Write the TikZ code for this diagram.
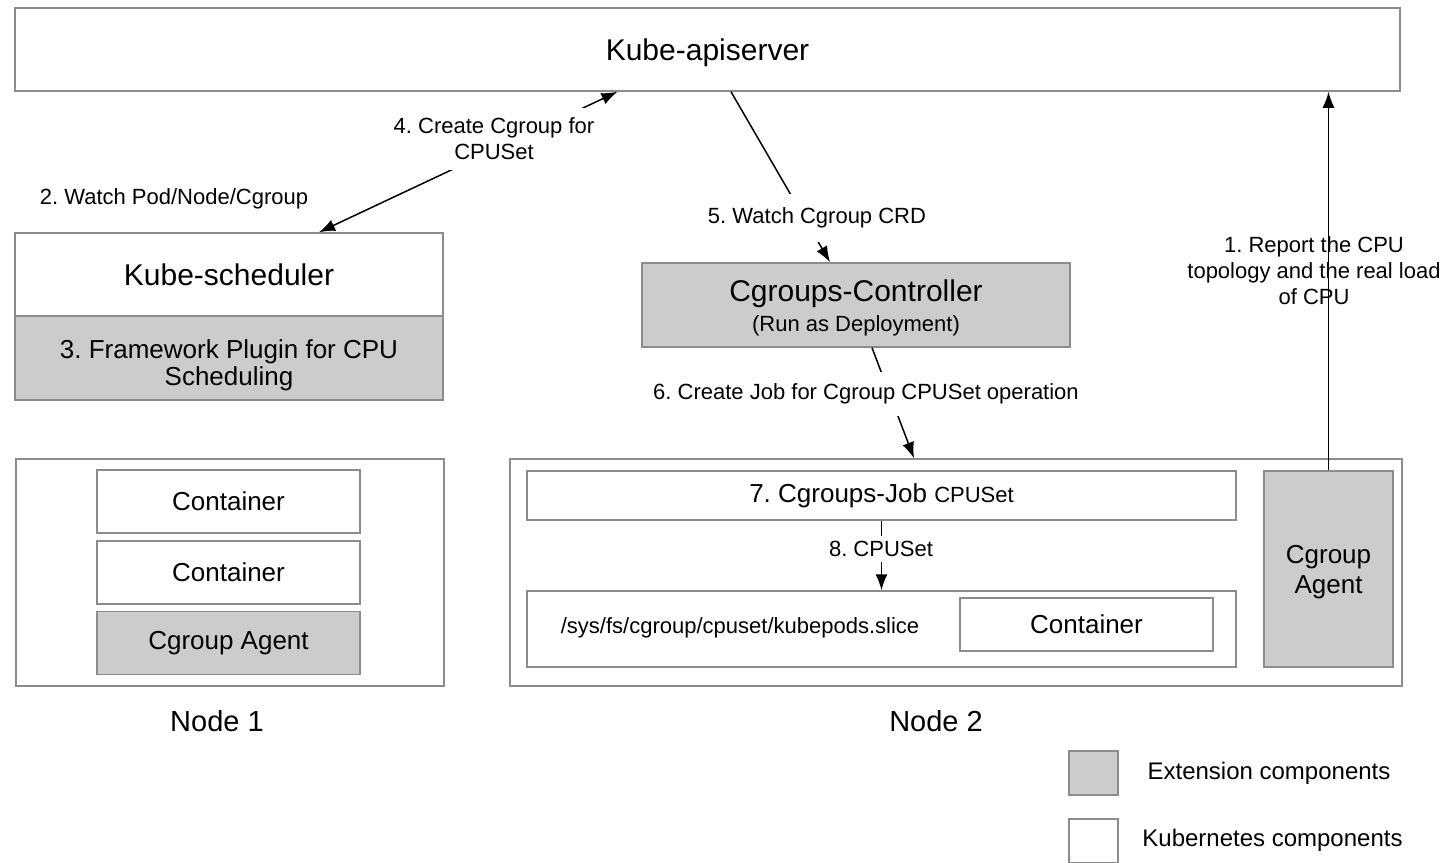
\documentclass[tikz,border=0pt]{standalone}
\usepackage{fontspec}
\setmainfont{Liberation Sans}
\frenchspacing
\usetikzlibrary{arrows.meta}

\begin{document}
\begin{tikzpicture}[
		x={(1pt,0pt)},
		y={(0pt,-1pt)},
		box/.style={draw=black!45,line width=1.5pt,align=center,inner sep=0pt},
		ext/.style={box,fill=black!20},
		big/.style={font=\fontsize{30}{34}\selectfont,text height=21.5pt,text depth=0pt},
		mid/.style={font=\fontsize{26}{27}\selectfont},
		small/.style={font=\fontsize{22}{26}\selectfont,align=center},
		lbl/.style={small,fill=white,inner xsep=2pt},
		conn/.style={line width=1.5pt,-{Latex[length=16pt,width=12pt]}},
		both/.style={line width=1.5pt,{Latex[length=16pt,width=12pt]}-{Latex[length=16pt,width=12pt]}},
	]
		\useasboundingbox (0,0) rectangle (1448,862);

		\node[box,big,minimum width=1385pt,minimum height=83pt] (api) at (707.5,49.5) {Kube-apiserver};
		\node[box,big,minimum width=428pt,minimum height=83pt] (sched) at (229,274.5) {Kube-scheduler};
		\node[ext,minimum width=428pt,minimum height=84pt] (plugin) at (229,358) {};
		\node[mid,align=center] (plugintxt) at (229,365) {3. Framework Plugin for CPU\\Scheduling};
		\node[ext,minimum width=428pt,minimum height=84pt] (ctrl) at (856,305) {};
		\node[big] (ctrltitle) at (856,291) {Cgroups-Controller};
		\node[small] (ctrlnote) at (856,326) {(Run as Deployment)};

		\node[box,minimum width=428pt,minimum height=227pt] (node1) at (230,572.5) {};
		\foreach \n/\y in {1/501.5, 2/572.5}{
			\node[box,mid,minimum width=263pt,minimum height=63pt] (cont\n) at (228.5,\y) {Container};
		}
		\node[ext,mid,minimum width=263pt,minimum height=63pt] (agent1) at (228.5,643) {Cgroup Agent};
		\node[font=\fontsize{29}{34}\selectfont] (node1lbl) at (217,721) {Node 1};

		\node[box,minimum width=892pt,minimum height=227pt] (node2) at (956,572.5) {};
		\node[box,minimum width=709pt,minimum height=49pt] (job) at (881.5,495.5) {\fontsize{26}{30}\selectfont 7. Cgroups-Job \fontsize{22}{26}\selectfont CPUSet};
		\node[box,minimum width=709pt,minimum height=76pt] (slice) at (881.5,629) {};
		\node[small] (path) at (740,628) {/sys/fs/cgroup/cpuset/kubepods.slice};
		\node[box,mid,minimum width=253pt,minimum height=53pt] (cont3) at (1086.5,624.5) {Container};
		\node[ext,minimum width=129pt,minimum height=196pt] (agent2) at (1328.5,569) {};
		\node[font=\fontsize{26}{30}\selectfont,align=center] (agent2txt) at (1328.5,572) {Cgroup\\Agent};
		\node[font=\fontsize{29}{34}\selectfont] (node2lbl) at (936,721) {Node 2};

		\node[ext,minimum width=49pt,minimum height=44pt] (extkey) at (1093.5,773) {};
		\node[font=\fontsize{24}{28}\selectfont] (exttxt) at (1269,773) {Extension components};
		\node[box,minimum width=49pt,minimum height=44pt] (k8skey) at (1093.5,841) {};
		\node[font=\fontsize{24}{28}\selectfont] (k8stxt) at (1272.5,840) {Kubernetes components};

		\draw[conn] (agent2.north) -- (agent2.north |- api.south);
		\node[small] (l1) at (1314,271) {1. Report the CPU\\topology and the real load\\of CPU};

		\draw[both] ([xshift=90pt]sched.north) -- ([xshift=-90pt]api.south);
		\node[small] (l2) at (174,199) {2. Watch Pod/Node/Cgroup};
		\node[lbl,inner sep=10pt] (l4) at (494,139) {4. Create Cgroup for\\CPUSet};

		\draw[conn] ([xshift=23.5pt]api.south) -- ([xshift=-26pt]ctrl.north);
		\node[lbl,inner ysep=14pt] (l5) at (817,218) {5. Watch Cgroup CRD};

		\draw[conn] ([xshift=16pt]ctrl.south) -- ([xshift=-42pt]node2.north);
		\node[lbl,inner ysep=12pt] (l6) at (866,394) {6. Create Job for Cgroup CPUSet operation};

		\draw[conn] (job.south) -- (slice.north);
		\node[lbl,inner ysep=5pt] (l8) at (881,549) {8. CPUSet};
	\end{tikzpicture}
\end{document}
